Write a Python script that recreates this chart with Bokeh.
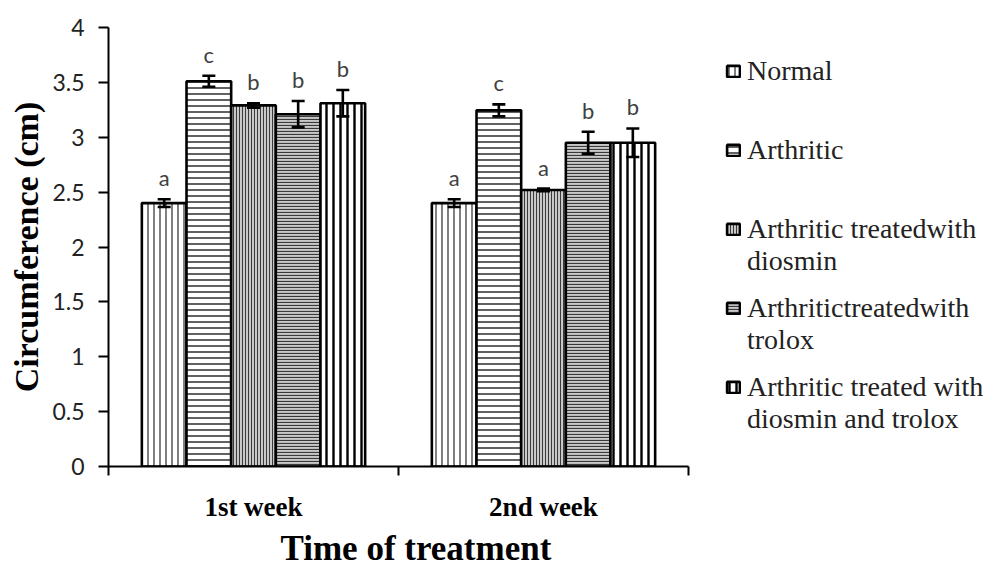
from bokeh.plotting import figure
from bokeh.models import (ColumnDataSource, Range1d, LinearAxis, FixedTicker, Whisker,
                          TeeHead, Legend, LegendItem, Title)
from bokeh.transform import dodge
from bokeh.embed import file_html
from bokeh.resources import INLINE
from bokeh.core.properties import value

# ---------------- data ----------------
weeks = ["1st week", "2nd week"]
series_names = ["Normal", "Arthritic", "Arthritic treatedwith\ndiosmin",
                "Arthritictreatedwith\ntrolox", "Arthritic treated with\ndiosmin and trolox"]
normal = [2.40, 2.40]
arthritic = [3.51, 3.245]
diosmin = [3.29, 2.52]
trolox = [3.21, 2.95]
combo = [3.31, 2.95]
normal_err = [0.035, 0.035]
arthritic_err = [0.05, 0.055]
diosmin_err = [0.02, 0.012]
trolox_err = [0.12, 0.10]
combo_err = [0.12, 0.13]
normal_sig = ["a", "a"]
arthritic_sig = ["c", "c"]
diosmin_sig = ["b", "a"]
trolox_sig = ["b", "b"]
combo_sig = ["b", "b"]
y_ticks = [0, 0.5, 1, 1.5, 2, 2.5, 3, 3.5, 4]
x_title = "Time of treatment"
y_title = "Circumference (cm)"

values = [normal, arthritic, diosmin, trolox, combo]
errors = [normal_err, arthritic_err, diosmin_err, trolox_err, combo_err]
sigs = [normal_sig, arthritic_sig, diosmin_sig, trolox_sig, combo_sig]

# styles: (hatch pattern, scale, weight, hatch colour, fill colour)
styles = [
    ("vertical_line", 6, 1.3, "#3a3a3a", "white"),
    ("horizontal_line", 6, 1.6, "#3a3a3a", "white"),
    ("vertical_line", 3, 1.0, "#3a3a3a", "#c8c8c8"),
    ("horizontal_line", 3, 1.2, "#3a3a3a", "#c8c8c8"),
    ("vertical_line", 7, 2.4, "black", "white"),
]

# layout (pixels)
W, H = 1000, 569
LEFT, TOP, BOTTOM, RIGHT = 108, 27, 102, 0
CAT_PX = 290  # pixel width of one category slot

xc = [i + 0.5 for i in range(len(weeks))]
bar_w = 0.154
x_end = (W - LEFT - RIGHT) / CAT_PX

p = figure(width=W, height=H, output_backend="svg", toolbar_location=None,
           x_range=Range1d(0, x_end), y_range=Range1d(0, 4),
           x_axis_type=None, min_border_left=LEFT, min_border_top=TOP,
           min_border_bottom=BOTTOM, min_border_right=RIGHT)
p.outline_line_color = None
p.xgrid.visible = False
p.ygrid.visible = False

first_items, second_items = [], []
for j, (vals, errs, sg, st, name) in enumerate(zip(values, errors, sigs, styles, series_names)):
    off = (j - (len(values) - 1) / 2) * bar_w
    src = ColumnDataSource(dict(x=xc, top=vals,
                                upper=[v + e for v, e in zip(vals, errs)],
                                lower=[v - e for v, e in zip(vals, errs)],
                                sig=sg))
    r = p.vbar(x=dodge("x", off, range=p.x_range), top="top", width=bar_w, bottom=0,
               source=src, fill_color=st[4], hatch_pattern=st[0], hatch_scale=st[1],
               hatch_weight=st[2], hatch_color=st[3], line_color="black", line_width=2.6)
    lines = name.split("\n")
    first_items.append(LegendItem(label=lines[0], renderers=[r]))
    if len(lines) > 1:
        second_items.append(LegendItem(label=lines[1], renderers=[]))
    w = Whisker(base=dodge("x", off, range=p.x_range), upper="upper", lower="lower",
                source=src, line_color="black", line_width=2.6, level="overlay",
                upper_head=TeeHead(size=13, line_width=2.6, line_color="black"),
                lower_head=TeeHead(size=13, line_width=2.6, line_color="black"))
    p.add_layout(w)
    p.text(x=dodge("x", off, range=p.x_range), y="upper", text="sig", source=src,
           text_align="center", text_baseline="bottom", y_offset=-8,
           text_font=value("Lato"), text_font_size="22px", text_color="#404040")

# y axis
p.yaxis.ticker = FixedTicker(ticks=y_ticks)
p.yaxis.major_label_overrides = {t: f"{t:g}" for t in y_ticks}
p.yaxis.major_label_text_font = "Lato"
p.yaxis.major_label_text_font_size = "23px"
p.yaxis.major_label_text_color = "#222222"
p.yaxis.major_tick_out = 10
p.yaxis.major_tick_in = 0
p.yaxis.minor_tick_line_color = None
p.yaxis.axis_line_width = 2
p.yaxis.major_tick_line_width = 2
p.yaxis.axis_line_color = "black"
p.yaxis.major_label_standoff = 14
p.yaxis.axis_label = y_title
p.yaxis.axis_label_text_font = "Liberation Serif"
p.yaxis.axis_label_text_font_style = "bold"
p.yaxis.axis_label_text_font_size = "34px"
p.yaxis.axis_label_text_color = "black"
p.yaxis.axis_label_standoff = 4

# x axis (line and ticks limited to the categories)
xaxis = LinearAxis(ticker=FixedTicker(ticks=xc, minor_ticks=list(range(len(weeks) + 1))),
                   bounds=(0, len(weeks)))
xaxis.major_label_overrides = {x: w for x, w in zip(xc, weeks)}
xaxis.major_tick_line_color = None
xaxis.major_tick_out = 0
xaxis.major_tick_in = 0
xaxis.minor_tick_out = 9
xaxis.minor_tick_in = 0
xaxis.minor_tick_line_width = 2
xaxis.minor_tick_line_color = "black"
xaxis.axis_line_width = 2
xaxis.axis_line_color = "black"
xaxis.major_label_standoff = 16
xaxis.major_label_text_font = "Liberation Serif"
xaxis.major_label_text_font_style = "bold"
xaxis.major_label_text_font_size = "27px"
xaxis.major_label_text_color = "black"
p.add_layout(xaxis, "below")
p.add_layout(Title(text=x_title, align="left", offset=172, text_font="Liberation Serif",
                   text_font_style="bold", text_font_size="35px", text_color="black",
                   standoff=4), "below")

leg_kw = dict(border_line_color=None, background_fill_alpha=0, glyph_width=16,
              glyph_height=14, label_text_font="Liberation Serif",
              label_text_font_size="28px", label_text_color="#222222",
              label_standoff=6, spacing=29, label_height=50, padding=0, margin=0)
legend_a = Legend(items=first_items, location=(617, 54), **leg_kw)
legend_b = Legend(items=second_items, location=(617, 22), **leg_kw)
p.add_layout(legend_a)
p.add_layout(legend_b)

open("out.html", "w").write(file_html(p, INLINE))
